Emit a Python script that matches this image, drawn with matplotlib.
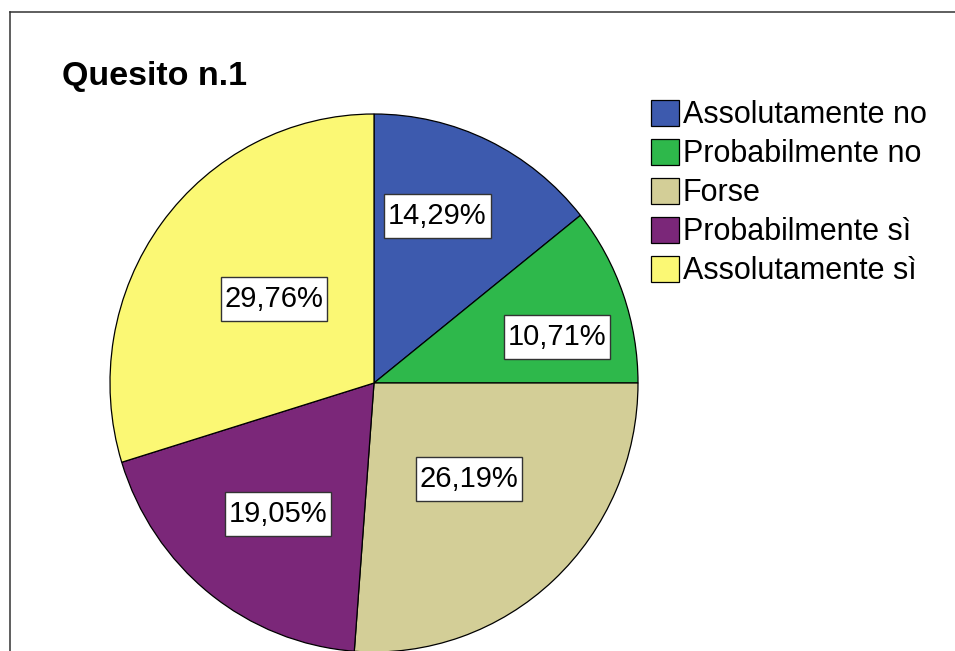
import matplotlib.pyplot as plt
from matplotlib.lines import Line2D
from matplotlib.patches import Rectangle
import numpy as np

plt.rcParams['font.family'] = ['Liberation Sans', 'DejaVu Sans']

# data
categories = ['Assolutamente no', 'Probabilmente no', 'Forse',
              'Probabilmente sì', 'Assolutamente sì']
percent = [14.29, 10.71, 26.19, 19.05, 29.76]
colors = ['#3d5aae', '#2eb84b', '#d3ce97', '#7b2779', '#fbf874']

# label placement (radius fraction, angle shift in degrees)
label_r = [0.665, 0.714, 0.507, 0.607, 0.491]
label_shift = [4.6, -5.4, 2.3, 1.8, -3.1]

fig = plt.figure(figsize=(9.55, 6.51), dpi=100)

# outer frame (left and top only visible)
fx = 10 / 955
fy = 1 - 12 / 651
fig.add_artist(Line2D([fx, fx], [0, fy], color='#333333', lw=1.1))
fig.add_artist(Line2D([fx, 1], [fy, fy], color='#333333', lw=1.1))

fig.text(62 / 955, 1 - 76 / 651, 'Quesito n.1', fontsize=24.5,
         fontweight='bold', va='center', ha='left')

ax = fig.add_axes([110 / 955, -1 / 651, 528 / 955, 538 / 651])
wedges, _ = ax.pie(percent, colors=colors, startangle=90, counterclock=False,
                   wedgeprops=dict(edgecolor='black', linewidth=0.9))
ax.set_aspect('auto')
ax.set_xlim(-1, 1)
ax.set_ylim(-1, 1)

labels = []
for w, p, r, s in zip(wedges, percent, label_r, label_shift):
    ang = np.deg2rad((w.theta1 + w.theta2) / 2 + s)
    txt = f'{p:.2f}%'.replace('.', ',')
    t = ax.text(r * np.cos(ang), r * np.sin(ang), txt, fontsize=21,
                ha='center', va='center', zorder=5)
    labels.append(t)

# white boxes behind labels: tight sideways, roomy top/bottom
fig.canvas.draw()
renderer = fig.canvas.get_renderer()
for t in labels:
    bb = t.get_window_extent(renderer)
    cx, cy = (bb.x0 + bb.x1) / 2, (bb.y0 + bb.y1) / 2
    w_px, h_px = bb.width + 8, 44
    box = Rectangle((cx - w_px / 2, cy - h_px / 2), w_px, h_px,
                    transform=None, facecolor='white', edgecolor='#333333',
                    linewidth=1.0, zorder=4)
    ax.add_artist(box)

fig.legend(wedges, categories, loc='upper left',
           bbox_to_anchor=(651 / 955, 1 - 100 / 651), frameon=False,
           fontsize=22, handlelength=0.92, handleheight=0.92,
           handletextpad=0.12, labelspacing=0.28, borderaxespad=0,
           borderpad=0)

fig.savefig('out.png', dpi=100)
